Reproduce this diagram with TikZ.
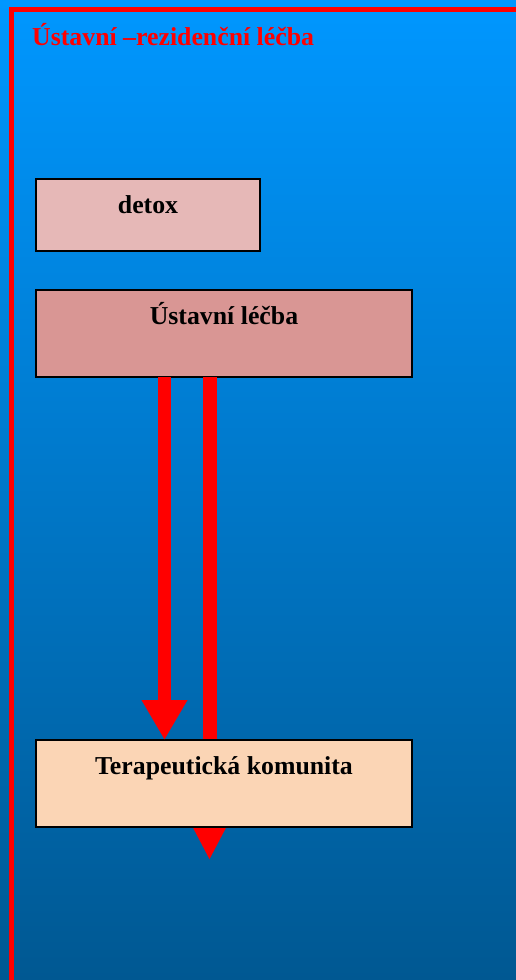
\documentclass[tikz,border=0pt]{standalone}
\usepackage{fontspec}
\setmainfont{Liberation Serif}
\usetikzlibrary{arrows.meta,calc}
\definecolor{bgtop}{RGB}{0,151,255}
\definecolor{bgbot}{RGB}{0,88,146}
\definecolor{detoxfill}{RGB}{230,184,183}
\definecolor{ustfill}{RGB}{217,150,148}
\definecolor{tkfill}{RGB}{251,213,181}
\definecolor{pptred}{RGB}{255,0,0}
\tikzset{
  box/.style={draw=black, line width=2pt, inner sep=0pt, outer sep=0pt, anchor=north west,
    font=\fontsize{25.8}{30}\selectfont\bfseries, text height=34pt, text depth=0pt},
  redarrowA/.style={draw=pptred, line width=13pt,
    -{Triangle[width=43pt,length=40pt]}},
  redarrowB/.style={draw=pptred, line width=14pt,
    -{Triangle[width=34pt,length=36pt]}},
}
\begin{document}
\begin{tikzpicture}[x=1pt,y=-1pt]
\useasboundingbox (0,0) rectangle (516,980);
\shade[top color=bgtop, bottom color=bgbot] (0,0) rectangle (516,980);
\draw[pptred, line width=5pt] (516,9.5) -- (11.5,9.5) -- (11.5,980);
\node[anchor=base west, text=pptred, font=\fontsize{25.8}{30}\selectfont\bfseries, inner sep=0pt] (title) at (32,45) {Ústavní –rezidenční léčba};
\node[box, fill=detoxfill, minimum width=224pt, minimum height=72pt, text depth=38pt] (detox) at (36,179) {detox};
\node[box, fill=ustfill, minimum width=376pt, minimum height=87pt, text depth=53pt] (ust) at (36,290) {Ústavní léčba};
\coordinate (tkend) at (209.5,860);
\draw[redarrowB] ($(ust.south west)+(173.5,0)$) -- (tkend);
\node[box, fill=tkfill, minimum width=376pt, minimum height=87pt, text depth=53pt] (tk) at (36,740) {Terapeutická komunita};
\draw[redarrowA] ($(ust.south west)+(128.5,0)$) -- ($(tk.north west)+(128.5,0)$);
\end{tikzpicture}
\end{document}
